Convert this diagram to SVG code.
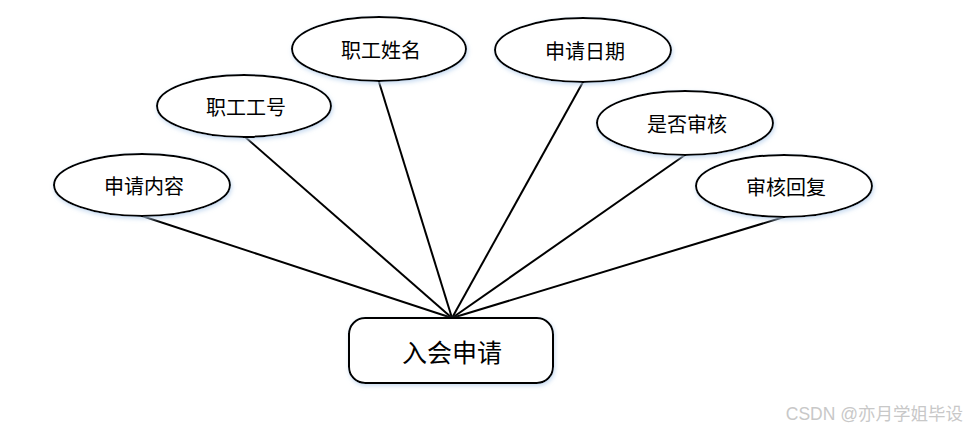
<svg xmlns="http://www.w3.org/2000/svg" width="969" height="431" viewBox="0 0 969 431">
<style>
.n{fill:#fff;stroke:#000;stroke-width:2;filter:url(#sh)}
.t{font-family:"Noto Sans CJK SC","Liberation Sans",sans-serif;font-size:20px;fill:#000;text-anchor:middle;dominant-baseline:central}
.c line{stroke:#000;stroke-width:2}
</style>
<defs>
<filter id="sh" x="-20%" y="-30%" width="140%" height="160%">
<feDropShadow dx="1" dy="2" stdDeviation="2" flood-color="#bcd3ee" flood-opacity="0.8"/>
</filter>
</defs>
<rect width="969" height="431" fill="#fff"/>
<g class="c" id="connectors">
<line x1="142" y1="216" x2="452" y2="318"/>
<line x1="244" y1="136" x2="452" y2="318"/>
<line x1="379" y1="82" x2="452" y2="318"/>
<line x1="583" y1="82" x2="452" y2="318"/>
<line x1="685" y1="155" x2="452" y2="318"/>
<line x1="784" y1="217" x2="452" y2="318"/>
</g>
<g id="n-content"><ellipse class="n" cx="142" cy="185" rx="88" ry="31"/><text class="t" x="144" y="185">申请内容</text></g>
<g id="n-id"><ellipse class="n" cx="244" cy="106" rx="87" ry="31"/><text class="t" x="246" y="106">职工工号</text></g>
<g id="n-name"><ellipse class="n" cx="379" cy="49" rx="87" ry="32"/><text class="t" x="381" y="49">职工姓名</text></g>
<g id="n-date"><ellipse class="n" cx="583" cy="50" rx="88" ry="32"/><text class="t" x="585" y="50">申请日期</text></g>
<g id="n-audit"><ellipse class="n" cx="685" cy="123" rx="88" ry="32"/><text class="t" x="687" y="123">是否审核</text></g>
<g id="n-reply"><ellipse class="n" cx="784" cy="186" rx="88" ry="31"/><text class="t" x="786" y="186">审核回复</text></g>
<g id="n-main"><rect class="n" x="349" y="318" width="204" height="65" rx="16"/><text class="t" x="452" y="351" style="font-size:25px">入会申请</text></g>
<text x="963" y="420" style="font-family:'Liberation Sans','Noto Sans CJK SC',sans-serif;font-size:17.5px;fill:#c8c8c8;text-anchor:end">CSDN @亦月学姐毕设</text>
</svg>
